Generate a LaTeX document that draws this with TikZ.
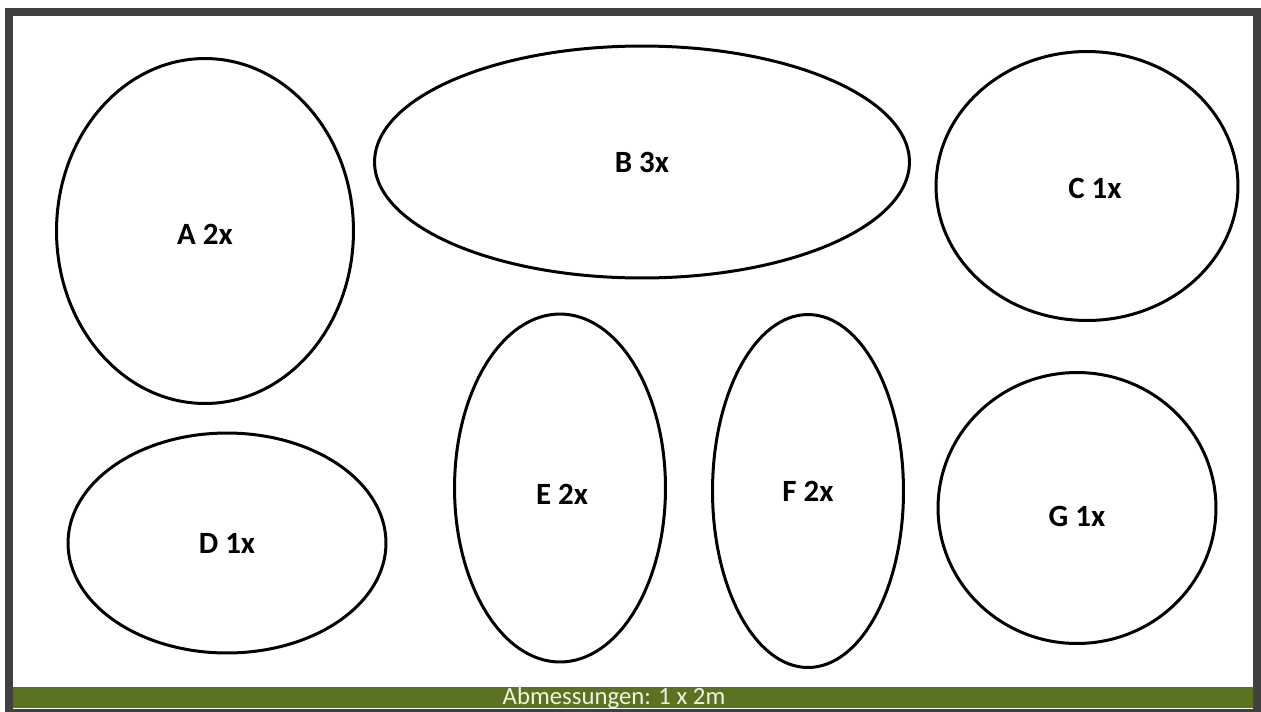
\documentclass[tikz,border=0pt]{standalone}
\usepackage{fontspec}
\setmainfont{Carlito}
\usepackage{tikz}
\usetikzlibrary{shapes.geometric}
\definecolor{framegray}{HTML}{404040}
\definecolor{bargreen}{HTML}{5A7320}
\definecolor{bartext}{HTML}{EEF3E2}
\newcommand{\pieceLabel}[2]{#1 #2x}

\begin{document}
\begin{tikzpicture}[x=0.02cm,y=-0.02cm,
  piece/.style={ellipse,draw,line width=0.06cm,inner sep=0pt},
  tag/.style={inner sep=0pt,font=\fontsize{17.6}{20}\selectfont\bfseries}]
 \useasboundingbox (0,0) rectangle (1261,711);
 \draw[framegray,line width=0.16cm] (9,11.5) rectangle (1257,713);
 \fill[bargreen] (13,687) rectangle (1253,708);
 \node[text=bartext,font=\fontsize{14.1}{16}\selectfont,inner sep=0pt] (dim) at (614,698) {Abmessungen: 1 x 2m};
 % pieces
 \node[piece,minimum width=5.94cm,minimum height=6.90cm,
   label={[tag,yshift=-0.06cm]center:\pieceLabel{A}{2}}] (a) at (205,231) {};
 \node[piece,minimum width=10.70cm,minimum height=4.64cm,
   label={[tag]center:\pieceLabel{B}{3}}] (b) at (642,162) {};
 \node[piece,minimum width=6.04cm,minimum height=5.38cm,
   label={[tag,xshift=0.16cm,yshift=-0.04cm]center:\pieceLabel{C}{1}}] (c) at (1087,186) {};
 \node[piece,minimum width=6.36cm,minimum height=4.40cm,
   label={[tag]center:\pieceLabel{D}{1}}] (d) at (227,543) {};
 \node[piece,minimum width=4.22cm,minimum height=6.96cm,
   label={[tag,xshift=0.04cm,yshift=-0.12cm]center:\pieceLabel{E}{2}}] (e) at (560,488) {};
 \node[piece,minimum width=3.82cm,minimum height=7.06cm,
   label={[tag]center:\pieceLabel{F}{2}}] (f) at (808,491) {};
 \node[piece,minimum width=5.56cm,minimum height=5.42cm,
   label={[tag,yshift=-0.16cm]center:\pieceLabel{G}{1}}] (g) at (1077,508) {};
\end{tikzpicture}
\end{document}
